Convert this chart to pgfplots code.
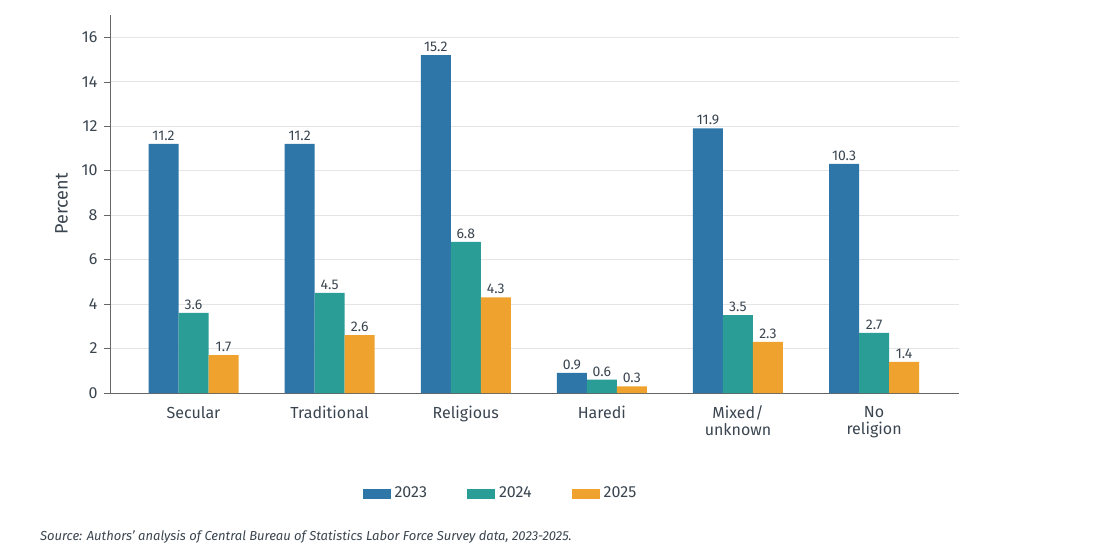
\documentclass[border=0pt]{standalone}
\usepackage{pgfplots}
\pgfplotsset{compat=1.18}
\usepackage{fontspec}
\setmainfont{Fira Sans}
\definecolor{c1}{HTML}{2E75A8}
\definecolor{c2}{HTML}{2A9D96}
\definecolor{c3}{HTML}{F0A22E}
\definecolor{tx}{HTML}{3A4550}
\begin{document}
\begin{tikzpicture}[x=1pt,y=1pt]
\useasboundingbox (-68.5,-79) rectangle (485,196.5);
\begin{axis}[at={(41.53,0)},anchor=origin,
 scale only axis,width=424pt,height=189pt,
 xmin=-0.61,xmax=5.62,ymin=0,ymax=17,
 ybar=0pt,bar width=15pt,
 xtick=data,xticklabels={Secular,Traditional,Religious,Haredi,{Mixed/\\unknown},{No\\religion}},
 xticklabel style={align=center,font=\fontsize{8}{8.5}\selectfont,text=tx},
 ytick={0,2,...,16},
 yticklabel style={font=\fontsize{8}{8.5}\selectfont,text=tx},
 /pgf/number format/assume math mode=true,
 axis x line*=bottom,axis y line*=left,
 axis line style={draw=gray!80!black},
 major tick length=3pt,
 xtick style={draw=none},
 ytick style={draw=gray!80!black},
 tick align=outside,
 ymajorgrids,grid style={draw=gray!20},
 ylabel={Percent},ylabel style={font=\fontsize{9}{10}\selectfont,text=tx},
 nodes near coords,
 every node near coord/.append style={font=\fontsize{7}{7.5}\selectfont,text=tx,inner sep=1.5pt,
   /pgf/number format/.cd,fixed,fixed zerofill,precision=1},
 legend style={at={(axis description cs:0.461,-0.267)},anchor=center,draw=none,
   legend columns=3,font=\fontsize{8}{8.5}\selectfont,text=tx,
   /tikz/every even column/.append style={column sep=18pt}},
 legend image code/.code={\fill[#1] (0pt,-2.5pt) rectangle (14pt,2.5pt);},
]
\addplot[fill=c1,draw=none] coordinates {(0,11.2)(1,11.2)(2,15.2)(3,0.9)(4,11.9)(5,10.3)};
\addplot[fill=c2,draw=none] coordinates {(0,3.6)(1,4.5)(2,6.8)(3,0.6)(4,3.5)(5,2.7)};
\addplot[fill=c3,draw=none] coordinates {(0,1.7)(1,2.6)(2,4.3)(3,0.3)(4,2.3)(5,1.4)};
\legend{2023,2024,2025}
\end{axis}
\node[anchor=west,font=\itshape\fontsize{6.5}{7.5}\selectfont,text=tx] at (-52,-72) {Source: Authors' analysis of Central Bureau of Statistics Labor Force Survey data, 2023-2025.};
\end{tikzpicture}
\end{document}
